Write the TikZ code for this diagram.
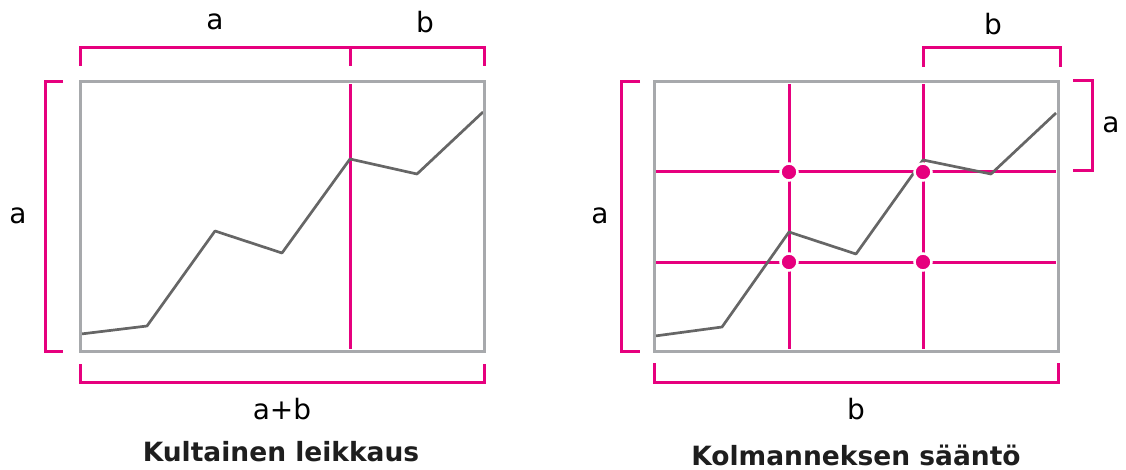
\documentclass[tikz,border=0pt]{standalone}
\usepackage{fontspec}
\setmainfont{DejaVu Sans}
\definecolor{accent}{HTML}{E6007E}
\definecolor{frame}{HTML}{A7A9AC}
\definecolor{curve}{HTML}{666666}
\definecolor{ink}{HTML}{1E1E1E}
\tikzset{
  guide/.style={draw=accent, line width=3pt},
  brace/.style={draw=accent, line width=3pt, line join=miter},
  box/.style={draw=frame, line width=3pt},
  trend/.style={draw=curve, line width=2.7pt, line join=round},
  lbl/.style={font=\fontsize{28}{32}\selectfont, text=black, inner sep=0pt},
  caption/.style={font=\fontsize{26.5}{30}\bfseries\selectfont, text=ink, inner sep=0pt},
  hotspot/.style={circle, fill=accent, draw=white, line width=2.5pt, minimum size=17pt, inner sep=0pt},
}
\begin{document}
\begin{tikzpicture}[x=1pt, y=-1pt]
\useasboundingbox (0,0) rectangle (1126,470);

% ---------- golden section ----------
\draw[guide] (350,84) -- (350,349);
\draw[trend] (81,334) -- (147,326) -- (215,231) -- (282,253) -- (350,159) -- (417,174) -- (483,112);
\draw[box] (80,82) rectangle (484,351);

% brackets
\draw[brace] (80,66) -- (80,48) -- (484,48) -- (484,66);
\draw[guide] (350,48) -- (350,66);
\draw[brace] (63,82) -- (45,82) -- (45,351) -- (63,351);
\draw[brace] (80,364) -- (80,382) -- (484,382) -- (484,364);

\node[lbl] (ga) at (215,22) {a};
\node[lbl] (gb) at (425,22) {b};
\node[lbl] (gl) at (18,216) {a};
\node[lbl] (gs) at (282,409) {a+b};
\node[caption] (gt) at (281,452) {Kultainen leikkaus};

% ---------- rule of thirds ----------
\draw[guide] (789,84) -- (789,349);
\draw[guide] (923,84) -- (923,349);
\draw[guide] (655,172) -- (1056,172);
\draw[guide] (655,262) -- (1056,262);
\draw[trend] (655,336) -- (722,327) -- (789,232) -- (856,254) -- (923,160) -- (991,174) -- (1056,113);
\draw[box] (654,82) rectangle (1058,351);

\node[hotspot] (p1) at (789,172) {};
\node[hotspot] (p2) at (923,172) {};
\node[hotspot] (p3) at (789,262) {};
\node[hotspot] (p4) at (923,262) {};

% brackets
\draw[brace] (923,67) -- (923,48) -- (1060,48) -- (1060,67);
\draw[brace] (1073,81) -- (1092,81) -- (1092,171) -- (1073,171);
\draw[brace] (640,82) -- (621,82) -- (621,351) -- (640,351);
\draw[brace] (654,363) -- (654,382) -- (1058,382) -- (1058,363);

\node[lbl] (kb) at (993,24) {b};
\node[lbl] (kr) at (1111,125) {a};
\node[lbl] (kl) at (600,216) {a};
\node[lbl] (ks) at (856,409) {b};
\node[caption] (kt) at (856,455) {Kolmanneksen sääntö};
\end{tikzpicture}
\end{document}
